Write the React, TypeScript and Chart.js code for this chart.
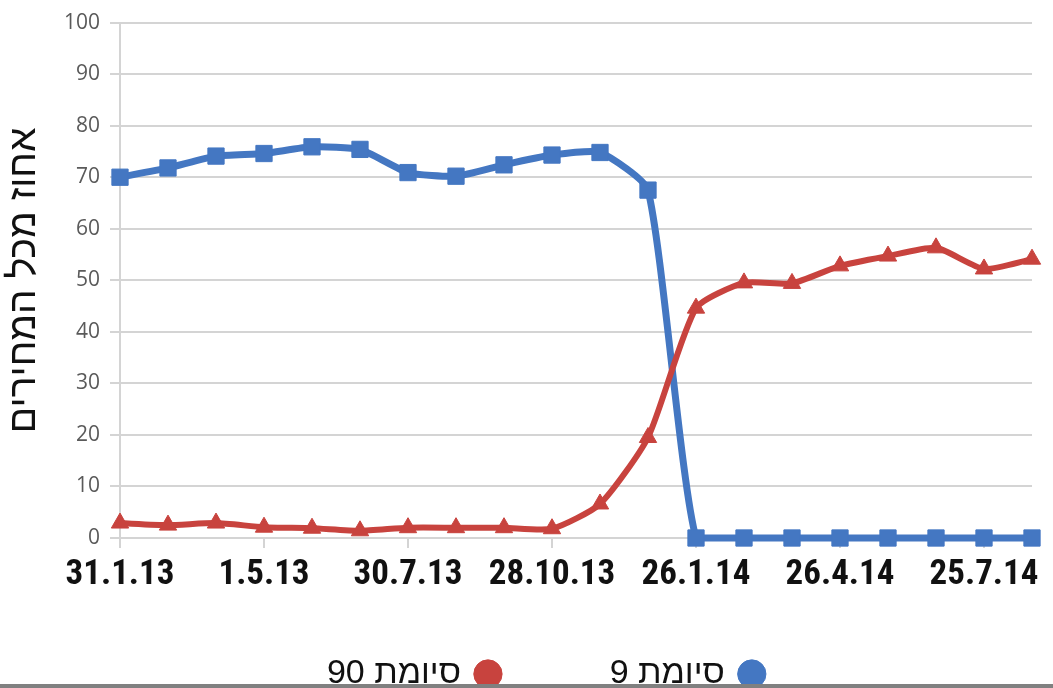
import React, { useEffect, useRef } from "react";
import { Chart, registerables } from "chart.js";

Chart.register(...registerables);

// Monthly observations, Jan 2013 – Aug 2014 (labels shown every 3rd point)
const tickLabels = ["31.1.13", "1.5.13", "30.7.13", "28.10.13", "26.1.14", "26.4.14", "25.7.14"];
const labelEvery = 3;
const categories = Array.from({ length: 20 }, (_, i) =>
  i % labelEvery === 0 ? tickLabels[i / labelEvery] ?? "" : ""
);

const series9Label = "סיומת 9";
const series90Label = "סיומת 90";

const series9 = [70, 71.8, 74.1, 74.6, 75.9, 75.4, 70.9, 70.2, 72.4, 74.3, 74.8, 67.5, 0, 0, 0, 0, 0, 0, 0, 0];
const series90 = [2.9, 2.5, 2.9, 2.1, 1.9, 1.4, 2, 2, 2, 1.8, 6.6, 19.5, 44.6, 49.5, 49.4, 52.8, 54.7, 56.3, 52.2, 54.1];

const yTitle = "אחוז מכל המחירים";

const BLUE = "#4477C2";
const RED = "#C8433E";
const GRID = "#d4d4d4";
const NBSP = "\u00A0";

export default function App() {
  const ref = useRef<HTMLCanvasElement | null>(null);

  useEffect(() => {
    document.body.style.margin = "0";
    const canvas = ref.current;
    if (!canvas) return;
    const chart = new Chart(canvas, {
      type: "line",
      data: {
        labels: categories,
        datasets: [
          {
            label: series9Label,
            data: series9,
            borderColor: BLUE,
            backgroundColor: BLUE,
            borderWidth: 7,
            pointStyle: "rect",
            pointRadius: 11.5,
            pointBorderWidth: 1,
            pointBackgroundColor: BLUE,
            pointBorderColor: BLUE,
            tension: 0.18,
            clip: false as any,
            order: 1,
          },
          {
            label: series90Label,
            data: series90,
            borderColor: RED,
            backgroundColor: RED,
            borderWidth: 6,
            pointStyle: "triangle",
            pointRadius: 10,
            pointBorderWidth: 1,
            pointBackgroundColor: RED,
            pointBorderColor: RED,
            tension: 0.2,
            clip: false as any,
            order: 0,
          },
        ],
      },
      options: {
        animation: false,
        responsive: false,
        maintainAspectRatio: false,
        layout: { padding: { top: 21, right: 21, left: 0, bottom: -13 } },
        plugins: {
          tooltip: { enabled: false },
          legend: {
            position: "bottom",
            rtl: true,
            textDirection: "rtl",
            labels: {
              usePointStyle: true,
              pointStyle: "circle",
              boxWidth: 20,
              boxHeight: 20,
              padding: 55,
              color: "#111",
              font: { family: "'Liberation Sans', 'DejaVu Sans', sans-serif", size: 34 },
              sort: (a: any, b: any) => a.datasetIndex - b.datasetIndex,
              generateLabels: (c: any) => {
                const items = Chart.defaults.plugins.legend.labels.generateLabels(c);
                // trailing spaces sit on the left in RTL: widen the gap and shift the group right
                return items.map((it: any) => ({
                  ...it,
                  text: it.text + NBSP.repeat(6),
                }));
              },
            },
          },
        },
        scales: {
          x: {
            type: "category",
            offset: false,
            grid: {
              drawOnChartArea: false,
              drawTicks: true,
              tickLength: 10,
              lineWidth: 2,
              color: (ctx: any) => (ctx.index % labelEvery === 0 ? GRID : "rgba(0,0,0,0)"),
            },
            border: { display: true, color: GRID, width: 2 },
            ticks: {
              autoSkip: false,
              maxRotation: 0,
              minRotation: 0,
              padding: 6,
              color: "#111",
              font: {
                family: "'Roboto Condensed', Roboto, sans-serif",
                size: 35,
                weight: "bold",
              },
            },
          },
          y: {
            min: 0,
            max: 100,
            afterFit: (scale: any) => {
              scale.width = 120;
            },
            grid: { color: GRID, lineWidth: 2, tickLength: 10 },
            border: { display: true, color: GRID, width: 2 },
            ticks: {
              stepSize: 10,
              padding: 10,
              color: "#5a5a5a",
              font: { family: "'Open Sans', 'Liberation Sans', sans-serif", size: 21 },
            },
            title: {
              display: true,
              text: yTitle,
              color: "#111",
              padding: { top: 1, bottom: 0 },
              font: { family: "'Liberation Sans', 'DejaVu Sans', sans-serif", size: 39 },
            },
          },
        },
      },
    });
    return () => chart.destroy();
  }, []);

  return (
    <div style={{ position: "relative", width: 1053, height: 688, overflow: "hidden", background: "#fff" }}>
      <canvas ref={ref} width={1053} height={688} style={{ display: "block" }} />
      <div
        style={{
          position: "absolute",
          left: 0,
          top: 684,
          width: 1053,
          height: 4,
          background: "#808080",
        }}
      />
    </div>
  );
}
